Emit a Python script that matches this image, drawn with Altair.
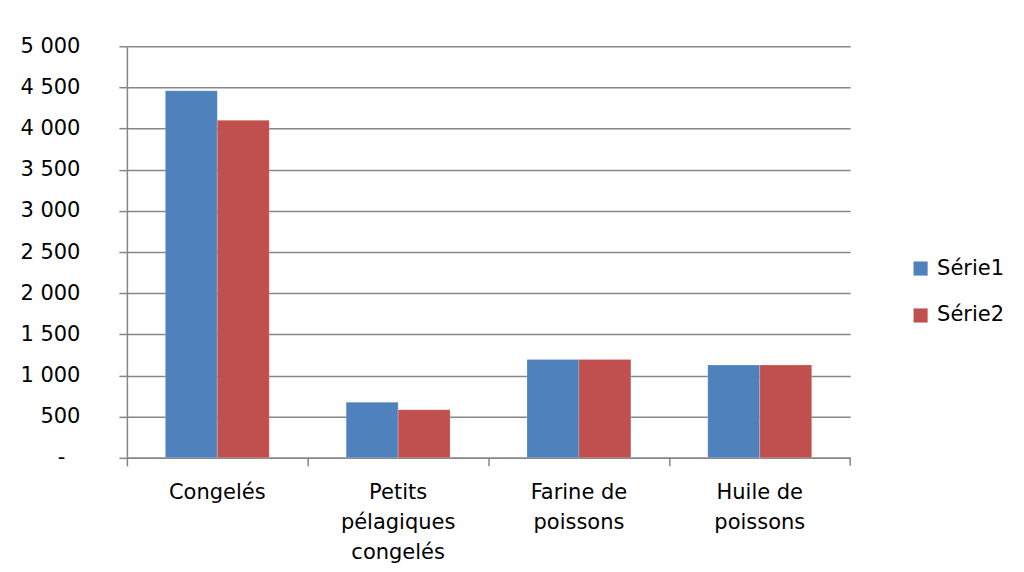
import altair as alt
import pandas as pd

categories = ["Congelés", "Petits\npélagiques\ncongelés", "Farine de\npoissons", "Huile de\npoissons"]
serie1 = [4460, 675, 1195, 1127]
serie2 = [4100, 583, 1195, 1127]
series_names = ["Série1", "Série2"]
y_ticks = list(range(0, 5001, 500))

rows = []
for c, a, b in zip(categories, serie1, serie2):
    rows.append({"cat": c, "serie": series_names[0], "val": a})
    rows.append({"cat": c, "serie": series_names[1], "val": b})
df = pd.DataFrame(rows)

FONT = "DejaVu Sans"
FS = 21
GRID = "#868686"

W, H = 724, 412

bars = alt.Chart(df).mark_bar(stroke="white", strokeWidth=0.5, strokeOpacity=0.4).encode(
    x=alt.X("cat:N", sort=categories, title=None,
            scale=alt.Scale(paddingInner=0, paddingOuter=0),
            axis=alt.Axis(labelExpr="split(datum.label, '\\n')", labelAngle=0,
                          labelFont=FONT, labelFontSize=FS, labelColor="black",
                          labelLineHeight=30, labelPadding=16, labelBaseline="top",
                          bandPosition=0, tickColor=GRID, tickSize=8, tickWidth=1.5,
                          domainColor=GRID, domainWidth=1.5, grid=False)),
    xOffset=alt.XOffset("serie:N", sort=series_names,
                        scale=alt.Scale(paddingOuter=0.74, paddingInner=0)),
    y=alt.Y("val:Q", title=None,
            scale=alt.Scale(domain=[0, 5000], nice=False),
            axis=alt.Axis(values=y_ticks,
                          labelExpr="datum.value == 0 ? '-' : replace(format(datum.value, ','), ',', ' ')",
                          labelFont=FONT, labelFontSize=FS, labelColor="black",
                          labelPadding={"condition": {"test": "datum.value == 0", "value": 54}, "value": 39},
                          tickColor=GRID, tickSize=8, tickWidth=1.5,
                          domainColor=GRID, domainWidth=1.5,
                          gridColor=GRID, gridWidth=1.5)),
    color=alt.Color("serie:N", sort=series_names, title=None,
                    scale=alt.Scale(domain=series_names, range=["#4F81BD", "#C0504D"]),
                    legend=alt.Legend(orient="none", legendX=784, legendY=212,
                                      symbolType="square", symbolSize=200,
                                      symbolStrokeWidth=0, labelFont=FONT,
                                      labelFontSize=FS, labelColor="black",
                                      labelOffset=6, rowPadding=25)),
)

end_tick = alt.Chart(pd.DataFrame({"k": [0]})).mark_rule(color=GRID, strokeWidth=1.5).encode(
    x=alt.value(W), y=alt.value(H), y2=alt.value(H + 8)
)

chart = alt.layer(bars, end_tick).properties(
    width=W, height=H,
    background="white",
    autosize=alt.AutoSizeParams(type="none"),
    padding={"left": 119, "top": 38, "right": 166, "bottom": 106},
).configure_view(stroke=None)

chart.save("out.html", embed_options={"renderer": "svg", "actions": False})
